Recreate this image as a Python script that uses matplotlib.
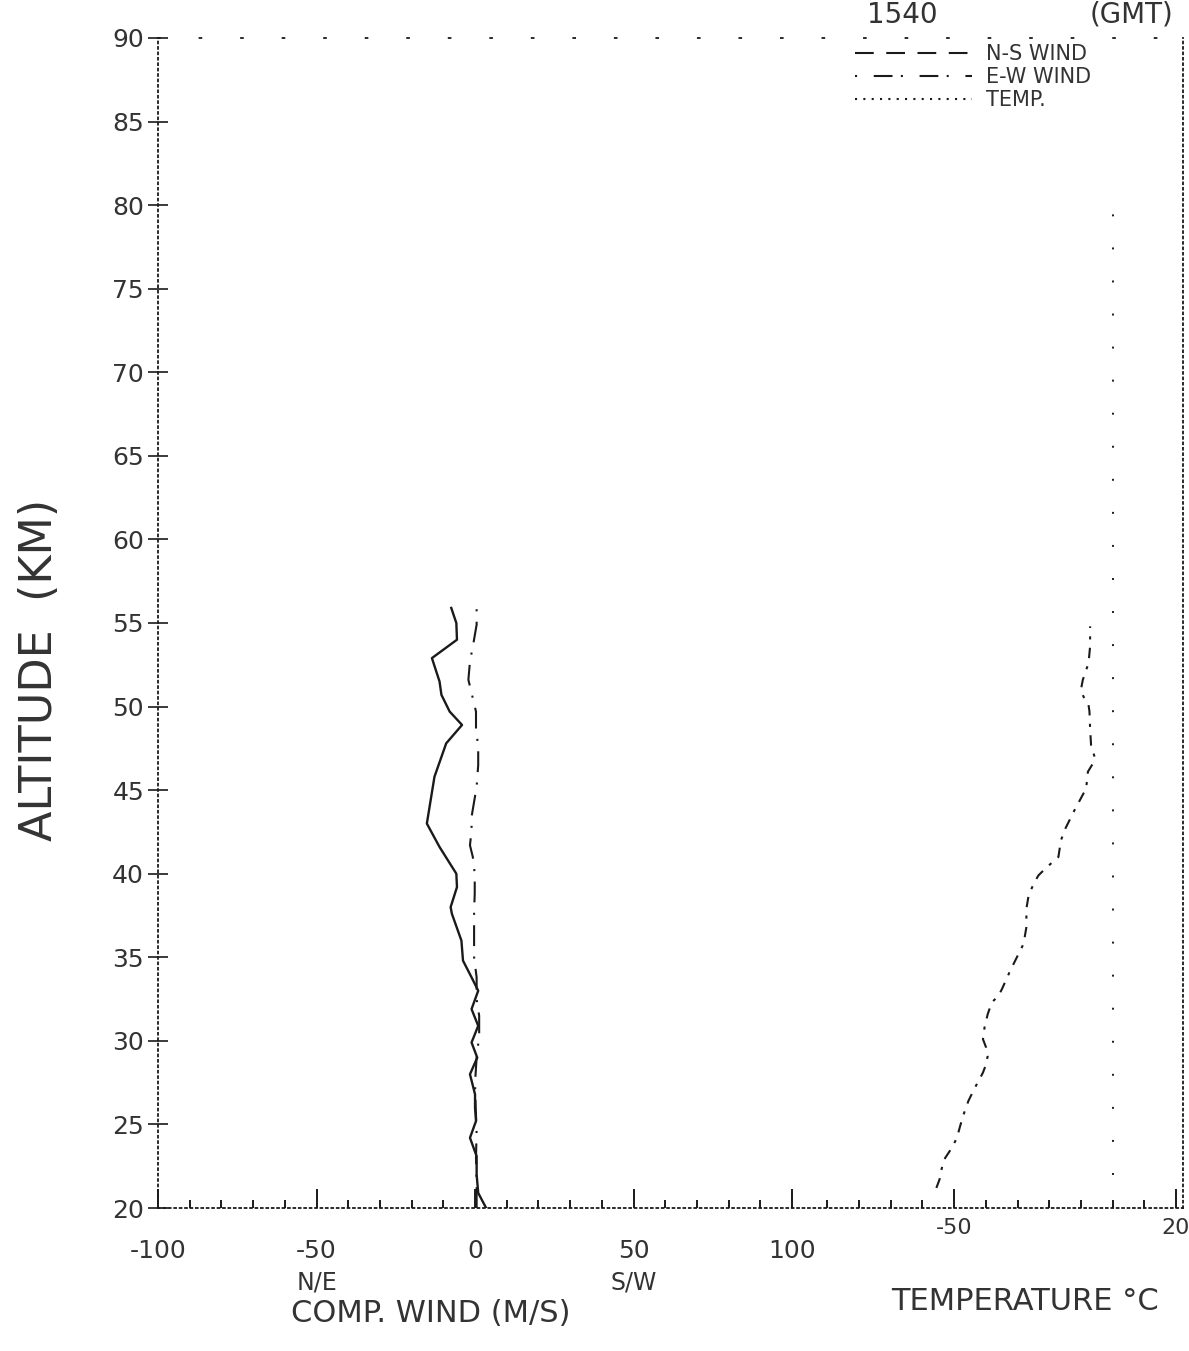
import matplotlib
matplotlib.use("Agg")
import matplotlib.pyplot as plt
from matplotlib.lines import Line2D
from matplotlib.ticker import FixedLocator, FixedFormatter

plt.rcParams['font.family'] = ['DejaVu Sans']

# ---- profile data (altitude in km) ----
ns_alt = [20.0, 20.9, 22.0, 23.1, 24.2, 25.2, 26.0, 26.8, 28.0, 29.0, 29.9,
          30.9, 31.9, 33.0, 33.8, 34.8, 36.0, 37.6, 38.0, 39.2, 40.0, 41.6,
          43.0, 45.8, 47.8, 48.9, 49.7, 50.7, 51.5, 52.9, 54.0, 55.0, 55.9]
ns_wind = [3.5, 1.0, 0.5, 0.5, -1.6, 0.3, 0.0, 0.0, -1.6, 0.7, -1.1,
           1.0, -1.1, 1.0, -1.1, -3.8, -4.3, -7.3, -7.7, -5.7, -5.9, -11.2,
           -15.2, -12.8, -9.1, -4.1, -8.0, -10.6, -11.2, -13.6, -5.7, -5.9, -7.5]

ew_alt = [20.0, 21.5, 23.0, 24.7, 26.0, 27.5, 29.0, 30.3, 31.5, 32.5, 33.8,
          35.0, 36.5, 37.8, 38.8, 40.0, 41.0, 41.7, 42.6, 43.4, 45.2, 46.5,
          47.6, 48.7, 49.7, 50.5, 51.6, 52.7, 53.8, 54.9, 56.0]
ew_wind = [0.5, 0.5, 0.3, 0.5, 0.2, 0.0, 0.5, 1.3, 1.3, 0.5, 0.5,
           -0.3, -0.3, -0.3, -0.1, -0.1, -0.7, -1.6, -1.1, -1.1, 0.5, 1.0,
           1.0, 0.3, 0.3, -0.7, -2.1, -1.6, -0.5, 0.5, 0.5]

t_alt = [21.2, 21.7, 22.1, 22.7, 23.0, 23.6, 24.2, 24.9, 25.6, 26.4, 27.1,
         27.6, 28.1, 28.6, 29.1, 29.6, 30.1, 30.8, 31.6, 32.3, 32.7, 33.1,
         34.2, 35.0, 35.8, 36.8, 37.9, 38.7, 39.4, 39.9, 40.4, 41.0, 42.0,
         42.7, 43.7, 44.8, 45.0, 46.1, 46.6, 47.0, 47.7, 48.7, 49.7, 50.1,
         50.6, 51.0, 51.6, 52.6, 53.6, 54.8]
temp_c = [-55.6, -54.6, -54.2, -53.5, -52.8, -50.7, -49.1, -48.1, -47.0, -45.5, -43.7,
          -42.3, -40.9, -39.9, -39.4, -39.9, -40.9, -40.4, -39.4, -38.1, -36.0, -34.9,
          -32.3, -30.2, -28.1, -27.2, -27.2, -26.5, -24.9, -23.4, -20.7, -17.1, -16.3,
          -14.9, -12.3, -9.2, -8.4, -7.8, -6.2, -5.7, -6.8, -7.1, -7.3, -7.6,
          -9.2, -10.0, -9.4, -7.6, -7.1, -7.1]

alt_ticks = [20, 25, 30, 35, 40, 45, 50, 55, 60, 65, 70, 75, 80, 85, 90]
wind_ticks = [-100, -50, 0, 50, 100]
wind_tick_labels = ['-100', '-50', '0', '50', '100']
temp_ticks = [-50, 20]
temp_tick_labels = ['-50', '20']

INK = '#1a1a1a'
TXT = '#333333'

W, H = 1189, 1351
fig = plt.figure(figsize=(W / 100, H / 100), dpi=100)
fig.patch.set_facecolor('white')

ax = fig.add_axes([158 / W, 143 / H, 1025 / W, 1170 / H])
ax.set_xlim(-100, 223.3)
ax.set_ylim(20, 90)

# temperature scale shares the same plot area
tax = ax.twiny()
tax.set_xlim(-301.1, 22.2)

# wind profiles
ax.plot(ns_wind, ns_alt, color=INK, lw=1.7, solid_joinstyle='round')
ax.plot(ew_wind, ew_alt, color=INK, lw=1.5, linestyle=(0, (10, 5, 1, 5)))

# temperature profile and 0 degC reference
tax.plot(temp_c, t_alt, color=INK, lw=1.5, linestyle=(0, (5, 4, 1.5, 4)))
tax.axvline(0, ymin=0, ymax=(80 - 20) / 70, color=INK, lw=1.4,
            linestyle=(0, (1, 16)))

# frame: dotted plotter-style borders
for name, sp in ax.spines.items():
    sp.set_color(INK)
    sp.set_linewidth(1.3)
    sp.set_linestyle((0, (1, 2)))
ax.spines['top'].set_linestyle((0, (1, 22)))
for sp in tax.spines.values():
    sp.set_visible(False)

# altitude axis
ax.yaxis.set_major_locator(FixedLocator(alt_ticks))
ax.yaxis.set_major_formatter(FixedFormatter([str(a) for a in alt_ticks]))
ax.tick_params(axis='y', direction='inout', length=14, width=1.2, pad=3,
               labelsize=18, colors=INK, labelcolor=TXT)
ax.tick_params(axis='y', which='minor', left=False)

# wind axis
ax.xaxis.set_major_locator(FixedLocator(wind_ticks))
ax.xaxis.set_major_formatter(FixedFormatter(wind_tick_labels))
ax.xaxis.set_minor_locator(FixedLocator(list(range(-90, 100, 10))))
ax.tick_params(axis='x', which='major', direction='in', length=14, width=1.4,
               pad=22, labelsize=18, colors=INK, labelcolor=TXT)
ax.tick_params(axis='x', which='minor', direction='in', length=6, width=1.4,
               colors=INK)
ax.tick_params(top=False, right=False)

# temperature axis along the bottom
tax.xaxis.set_ticks_position('bottom')
tax.xaxis.set_label_position('bottom')
tax.xaxis.set_major_locator(FixedLocator(temp_ticks))
tax.xaxis.set_major_formatter(FixedFormatter(temp_tick_labels))
tax.xaxis.set_minor_locator(FixedLocator(list(range(-90, 20, 10))))
tax.tick_params(axis='x', which='major', direction='in', length=14, width=1.4,
                pad=7, labelsize=16, colors=INK, labelcolor=TXT)
tax.tick_params(axis='x', which='minor', direction='in', length=6, width=1.4,
                colors=INK)

# axis titles
ax.annotate('N/E', xy=(-50, 0), xycoords=('data', 'axes fraction'),
            xytext=(0, -54), textcoords='offset points', ha='center',
            va='center', fontsize=17, color=TXT)
ax.annotate('S/W', xy=(50, 0), xycoords=('data', 'axes fraction'),
            xytext=(0, -54), textcoords='offset points', ha='center',
            va='center', fontsize=17, color=TXT)
ax.annotate('COMP. WIND (M/S)', xy=(-14, 0), xycoords=('data', 'axes fraction'),
            xytext=(0, -76), textcoords='offset points', ha='center',
            va='center', fontsize=22, color=TXT)
tax.annotate('TEMPERATURE °C', xy=(-27.5, 0), xycoords=('data', 'axes fraction'),
             xytext=(0, -67), textcoords='offset points', ha='center',
             va='center', fontsize=22, color=TXT)
fig.text(40 / W, 1 - 670 / H, 'ALTITUDE  (KM)', rotation=90, ha='center',
         va='center', fontsize=32, color=TXT)

# header
fig.text(902 / W, 1 - 15 / H, '1540', ha='center', va='center', fontsize=20,
         color=TXT)
fig.text(1132 / W, 1 - 15 / H, '(GMT)', ha='center', va='center', fontsize=20,
         color=TXT)

# legend
handles = [
    Line2D([], [], color=INK, lw=1.5, linestyle=(0, (9, 6))),
    Line2D([], [], color=INK, lw=1.5, linestyle=(0, (1, 8, 9, 4))),
    Line2D([], [], color=INK, lw=1.5, linestyle=(0, (1, 3))),
]
labels = ['N-S WIND', 'E-W WIND', 'TEMP.']
leg = ax.legend(handles, labels, loc='upper left',
                bbox_to_anchor=(855 / W, 1 - 44 / H),
                bbox_transform=fig.transFigure, frameon=False, fontsize=15,
                handlelength=5.6, handletextpad=0.7, labelspacing=0.15,
                borderpad=0, borderaxespad=0)
for t in leg.get_texts():
    t.set_color(TXT)

fig.savefig('out.png', dpi=100, facecolor='white')
